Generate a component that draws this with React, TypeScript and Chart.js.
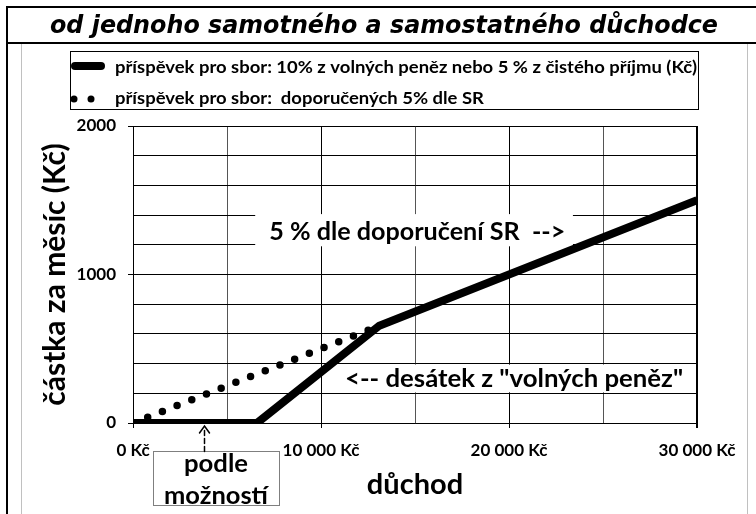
import React, { useEffect, useRef } from 'react';
import { Chart, registerables } from 'chart.js';

Chart.register(...registerables);

// ---- data ----
const incomeKc = [0, 6600, 13100, 30000];
const contributionKc = [0, 0, 655, 1500];
const recommendedIncomeKc = [0, 13100];
const recommendedKc = [0, 655];

const xGridValues = [0, 5000, 10000, 15000, 20000, 25000, 30000];
const xLabelValues = [0, 10000, 20000, 30000];
const yGridValues = [0, 200, 400, 600, 800, 1000, 1200, 1400, 1600, 1800, 2000];
const yLabelValues = [0, 1000, 2000];

const seriesNames = [
  'příspěvek pro sbor: 10% z volných peněz nebo 5 % z čistého příjmu (Kč)',
  'příspěvek pro sbor:  doporučených 5% dle SR',
];
const chartTitle = 'od jednoho samotného a samostatného důchodce';
const xAxisTitle = 'důchod';
const yAxisTitle = 'částka za měsíc (Kč)';
const noteRecommended = '5 % dle doporučení SR  -->';
const noteTithe = '<-- desátek z "volných peněz"';
const noteMeans = ['podle', 'možností'];

const FAMILY = 'Lato, "Noto Sans", sans-serif';

function fmtKc(v: number): string {
  return String(v).replace(/\B(?=(\d{3})+(?!\d))/g, ' ') + ' Kč';
}

function drawFit(ctx: CanvasRenderingContext2D, text: string, x: number, y: number, width: number, align: CanvasTextAlign) {
  const w = ctx.measureText(text).width;
  const sx = width / w;
  ctx.save();
  ctx.translate(x, y);
  ctx.scale(sx, 1);
  ctx.textAlign = align;
  ctx.textBaseline = 'middle';
  ctx.fillText(text, 0, 0);
  ctx.restore();
}

const decorPlugin = {
  id: 'decor',
  beforeDraw(chart: any) {
    const ctx: CanvasRenderingContext2D = chart.ctx;
    ctx.save();
    ctx.fillStyle = '#ffffff';
    ctx.fillRect(0, 0, chart.width, chart.height);
    // inner gray frame
    ctx.strokeStyle = '#c0c0c0';
    ctx.lineWidth = 1;
    ctx.beginPath();
    ctx.moveTo(21.5, 44);
    ctx.lineTo(21.5, chart.height);
    ctx.moveTo(747.5, 44);
    ctx.lineTo(747.5, chart.height);
    ctx.stroke();
    // black outer frame
    ctx.strokeStyle = '#000';
    ctx.lineWidth = 2;
    ctx.beginPath();
    ctx.moveTo(7, chart.height);
    ctx.lineTo(7, 7);
    ctx.lineTo(chart.width, 7);
    ctx.moveTo(6, 43);
    ctx.lineTo(chart.width, 43);
    ctx.stroke();
    ctx.restore();
  },
  beforeDatasetsDraw(chart: any) {
    const ctx: CanvasRenderingContext2D = chart.ctx;
    const xs = chart.scales.x;
    const ys = chart.scales.y;
    ctx.save();
    ctx.fillStyle = '#ffffff';
    // note 1 box
    const b1l = xs.getPixelForValue(6500);
    const b1r = xs.getPixelForValue(23400);
    const b1t = ys.getPixelForValue(1400) - 1;
    const b1b = ys.getPixelForValue(1200) + 1.5;
    ctx.fillRect(b1l, b1t, b1r - b1l, b1b - b1t);
    // note 2 box
    const b2l = xs.getPixelForValue(10850);
    const b2r = xs.getPixelForValue(29900);
    const b2t = ys.getPixelForValue(400) + 1;
    const b2b = ys.getPixelForValue(200) - 1;
    ctx.fillRect(b2l, b2t, b2r - b2l, b2b - b2t);
    ctx.fillStyle = '#000';
    ctx.font = `bold 25px ${FAMILY}`;
    drawFit(ctx, noteRecommended, xs.getPixelForValue(7250), ys.getPixelForValue(1285), 296, 'left');
    drawFit(ctx, noteTithe, xs.getPixelForValue(11280), ys.getPixelForValue(295), 338, 'left');
    ctx.restore();
  },
  afterDraw(chart: any) {
    const ctx: CanvasRenderingContext2D = chart.ctx;
    const xs = chart.scales.x;
    const ys = chart.scales.y;
    ctx.save();
    // title
    ctx.fillStyle = '#000';
    ctx.font = 'italic bold 25px "DejaVu Sans", Verdana, sans-serif';
    drawFit(ctx, chartTitle, 384, 26, 668, 'center');

    // legend
    ctx.strokeStyle = '#000';
    ctx.lineWidth = 1;
    ctx.strokeRect(70.5, 51.5, 628, 58);
    const ds = chart.data.datasets;
    ctx.strokeStyle = ds[0].borderColor;
    ctx.lineWidth = 8;
    ctx.lineCap = 'round';
    ctx.beginPath();
    ctx.moveTo(75, 66);
    ctx.lineTo(101, 66);
    ctx.stroke();
    ctx.fillStyle = ds[1].borderColor;
    [74, 91].forEach((cx) => {
      ctx.beginPath();
      ctx.arc(cx, 99, 3.5, 0, Math.PI * 2);
      ctx.fill();
    });
    ctx.fillStyle = '#000';
    ctx.font = `bold 17.5px ${FAMILY}`;
    const w1 = ctx.measureText(seriesNames[0]).width;
    const sx = 582 / w1;
    drawFit(ctx, seriesNames[0], 115, 67, 582, 'left');
    drawFit(ctx, seriesNames[1], 115, 98, ctx.measureText(seriesNames[1]).width * sx, 'left');

    // "podle možností" box
    const boxL = 153.5, boxR = 279.5, boxT = 451.5, boxB = 505.5;
    ctx.strokeStyle = '#7f7f7f';
    ctx.lineWidth = 1;
    ctx.fillStyle = '#fff';
    ctx.fillRect(boxL, boxT, boxR - boxL, boxB - boxT);
    ctx.strokeRect(boxL, boxT, boxR - boxL, boxB - boxT);
    ctx.fillStyle = '#000';
    ctx.font = `bold 25px ${FAMILY}`;
    drawFit(ctx, noteMeans[0], 216, 464, 64, 'center');
    drawFit(ctx, noteMeans[1], 216, 496, 104, 'center');

    // dashed arrow up to the axis
    const ax = Math.round(xs.getPixelForValue(3800)) + 0.5;
    const axisY = ys.getPixelForValue(0);
    ctx.strokeStyle = '#000';
    ctx.lineWidth = 1.5;
    ctx.setLineDash([5, 3]);
    ctx.beginPath();
    ctx.moveTo(ax, boxT);
    ctx.lineTo(ax, axisY + 6);
    ctx.stroke();
    ctx.setLineDash([]);
    ctx.beginPath();
    ctx.moveTo(ax - 5, axisY + 10);
    ctx.lineTo(ax, axisY + 3);
    ctx.lineTo(ax + 5, axisY + 10);
    ctx.stroke();
    ctx.restore();
  },
};

export default function App() {
  const canvasRef = useRef<HTMLCanvasElement | null>(null);

  useEffect(() => {
    if (!canvasRef.current) return;
    Chart.defaults.font.family = FAMILY;
    const chart = new Chart(canvasRef.current, {
      type: 'line',
      data: {
        datasets: [
          {
            label: seriesNames[0],
            data: incomeKc.map((x, i) => ({ x, y: contributionKc[i] })),
            borderColor: '#000000',
            borderWidth: 8,
            borderJoinStyle: 'miter',
            borderCapStyle: 'butt',
            pointRadius: 0,
            fill: false,
          },
          {
            label: seriesNames[1],
            data: recommendedIncomeKc.map((x, i) => ({ x, y: recommendedKc[i] })),
            borderColor: '#000000',
            borderWidth: 7.5,
            borderDash: [0, 15.8],
            borderCapStyle: 'round',
            pointRadius: 0,
            fill: false,
          },
        ],
      },
      options: {
        responsive: false,
        animation: false,
        devicePixelRatio: 1,
        layout: { padding: { top: 126, left: 22, right: 59, bottom: 0 } },
        plugins: {
          legend: { display: false },
          title: { display: false },
          tooltip: { enabled: false },
        },
        scales: {
          x: {
            type: 'linear',
            min: 0,
            max: 30000,
            afterFit: (s: any) => { s.height = 91; },
            afterBuildTicks: (s: any) => { s.ticks = xGridValues.map((v) => ({ value: v })); },
            grid: {
              color: (c: any) => (c.tick && xLabelValues.includes(c.tick.value) ? '#000' : '#555'),
              lineWidth: (c: any) => (c.tick && c.tick.value === 30000 ? 2 : 1),
              tickLength: 5,
              tickColor: (c: any) => (c.tick && xLabelValues.includes(c.tick.value) ? '#000' : 'rgba(0,0,0,0)'),
            },
            border: { color: '#000', width: 1 },
            ticks: {
              autoSkip: false,
              maxRotation: 0,
              padding: 12,
              color: '#000',
              font: { size: 17, weight: 'bold' },
              callback: (v: any) => (xLabelValues.includes(Number(v)) ? fmtKc(Number(v)) : ''),
            },
            title: {
              display: true,
              text: xAxisTitle,
              color: '#000',
              font: { size: 29, weight: 'bold' },
              padding: { top: 0, bottom: 12 },
            },
          },
          y: {
            type: 'linear',
            min: 0,
            max: 2000,
            afterFit: (s: any) => { s.width = 111; },
            afterBuildTicks: (s: any) => { s.ticks = yGridValues.map((v) => ({ value: v })); },
            grid: {
              color: '#000',
              lineWidth: 1,
              tickLength: 5,
              tickColor: (c: any) => (c.tick && yLabelValues.includes(c.tick.value) ? '#000' : 'rgba(0,0,0,0)'),
            },
            border: { color: '#000', width: 1 },
            ticks: {
              autoSkip: false,
              padding: 12,
              color: '#000',
              font: { size: 17, weight: 'bold' },
              callback: (v: any) => (yLabelValues.includes(Number(v)) ? String(v) : ''),
            },
            title: {
              display: true,
              text: yAxisTitle,
              color: '#000',
              font: { size: 30, weight: 'bold' },
              padding: { top: 15, bottom: 0 },
            },
          },
        },
      } as any,
      plugins: [decorPlugin],
    });
    return () => chart.destroy();
  }, []);

  return (
    <div style={{ position: 'fixed', left: 0, top: 0, width: 756, height: 514, background: '#fff' }}>
      <canvas ref={canvasRef} width={756} height={514} style={{ display: 'block', width: 756, height: 514 }} />
    </div>
  );
}
